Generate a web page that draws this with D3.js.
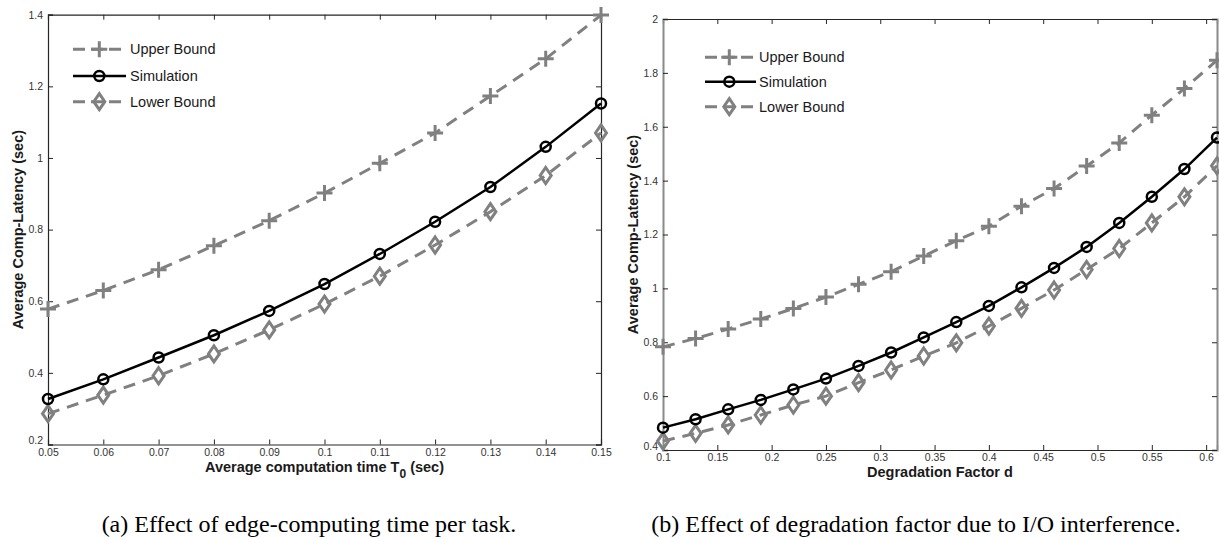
<!DOCTYPE html>
<html>
<head>
<meta charset="utf-8">
<script src="https://cdnjs.cloudflare.com/ajax/libs/d3/7.8.5/d3.min.js"></script>
<style>
  body { margin: 0; background: #fff; }
  svg { display: block; }
</style>
</head>
<body>
<svg id="fig" width="1219" height="539"></svg>
<script>
// panel (a): average computation time T0
var t0Vals = [0.05, 0.06, 0.07, 0.08, 0.09, 0.10, 0.11, 0.12, 0.13, 0.14, 0.15];
var upperA = [0.578, 0.630, 0.688, 0.755, 0.825, 0.902, 0.985, 1.070, 1.173, 1.277, 1.399];
var simA   = [0.327, 0.382, 0.443, 0.505, 0.573, 0.648, 0.732, 0.822, 0.919, 1.031, 1.152];
var lowerA = [0.286, 0.338, 0.392, 0.453, 0.520, 0.592, 0.670, 0.757, 0.850, 0.951, 1.070];
var xTicksA = [0.05, 0.06, 0.07, 0.08, 0.09, 0.1, 0.11, 0.12, 0.13, 0.14, 0.15];
var yTicksA = [0.2, 0.4, 0.6, 0.8, 1, 1.2, 1.4];

// panel (b): degradation factor d
var dVals  = [0.10, 0.13, 0.16, 0.19, 0.22, 0.25, 0.28, 0.31, 0.34, 0.37, 0.40, 0.43, 0.46, 0.49, 0.52, 0.55, 0.58, 0.61];
var upperB = [0.783, 0.814, 0.849, 0.886, 0.925, 0.968, 1.015, 1.062, 1.120, 1.177, 1.231, 1.305, 1.371, 1.454, 1.540, 1.643, 1.742, 1.847];
var simB   = [0.483, 0.514, 0.551, 0.586, 0.625, 0.665, 0.712, 0.762, 0.818, 0.875, 0.935, 1.004, 1.076, 1.154, 1.243, 1.340, 1.443, 1.560];
var lowerB = [0.433, 0.462, 0.493, 0.530, 0.567, 0.600, 0.650, 0.697, 0.749, 0.798, 0.860, 0.926, 0.994, 1.070, 1.148, 1.243, 1.340, 1.455];
var xTicksB = [0.1, 0.15, 0.2, 0.25, 0.3, 0.35, 0.4, 0.45, 0.5, 0.55, 0.6];
var yTicksB = [0.4, 0.6, 0.8, 1, 1.2, 1.4, 1.6, 1.8, 2];

var seriesNames = ["Upper Bound", "Simulation", "Lower Bound"];

var GRAY = "#808080";
var SANS = "'Liberation Sans', Arial, Helvetica, sans-serif";
var SERIF = "'Liberation Serif', 'Times New Roman', serif";

var svg = d3.select("#fig");

function fmt(v){ return String(+v.toFixed(2)); }

function marker(g, kind, x, y){
    if (kind == "plus"){
        g.append("path")
            .attr("d", "M"+(x-8)+","+y+"H"+(x+8)+"M"+x+","+(y-8)+"V"+(y+8))
            .attr("stroke", GRAY).attr("stroke-width", 3).attr("fill", "none");
    } else if (kind == "circle"){
        g.append("circle").attr("cx", x).attr("cy", y).attr("r", 5)
            .attr("stroke", "#000").attr("stroke-width", 2.5).attr("fill", "none");
    } else {
        g.append("path")
            .attr("d", "M"+x+","+(y-8)+"L"+(x+5.5)+","+y+"L"+x+","+(y+8)+"L"+(x-5.5)+","+y+"Z")
            .attr("stroke", GRAY).attr("stroke-width", 3).attr("fill", "none");
    }
}

function drawPanel(p){
    var x = d3.scaleLinear().domain(p.xDom).range([p.left, p.right]);
    var y = d3.scaleLinear().domain(p.yDom).range([p.bottom, p.top]);
    var g = svg.append("g");

    // axes: MATLAB style box, ticks pointing inwards on all sides
    var ax = [
        d3.axisBottom(x).tickValues(p.xTicks).tickSize(-5).tickFormat(fmt),
        d3.axisTop(x).tickValues(p.xTicks).tickSize(-5).tickFormat(""),
        d3.axisLeft(y).tickValues(p.yTicks).tickSize(-5).tickFormat(fmt),
        d3.axisRight(y).tickValues(p.yTicks).tickSize(-5).tickFormat("")
    ];
    var pos = ["translate(0,"+p.bottom+")", "translate(0,"+p.top+")",
               "translate("+p.left+",0)", "translate("+p.right+",0)"];
    ax.forEach(function(a, i){
        var ga = g.append("g").attr("transform", pos[i]).call(a);
        ga.selectAll(".tick line").attr("stroke", "#262626");
        ga.select(".domain").attr("stroke", (i>=2 ? p.vColor : "#262626"))
            .attr("stroke-width", (i>=2 ? p.vWidth : 1.2));
        ga.selectAll("text").attr("font-family", SANS).attr("font-size", "10.5px").attr("fill", "#333");
        if (i == 0) ga.selectAll("text").attr("y", 4);
        if (i == 2){
            ga.selectAll("text").attr("x", -5);
            // lowest y label sits just above the first x label, as in the figure
            ga.selectAll("text").filter(function(d){ return d == p.yDom[0]; }).attr("dy", "-0.05em");
        }
    });

    var line = d3.line().x(function(d){ return x(d[0]); }).y(function(d){ return y(d[1]); });
    var series = [
        {vals: p.upper, color: GRAY, w: 3, dash: "12,8", m: "plus"},
        {vals: p.sim, color: "#000", w: 2.5, dash: null, m: "circle"},
        {vals: p.lower, color: GRAY, w: 3, dash: "12,8", m: "diamond"}
    ];
    // draw dashed bounds first, simulation on top
    [0, 2, 1].forEach(function(k){
        var s = series[k];
        var pts = p.xs.map(function(v, i){ return [v, s.vals[i]]; });
        g.append("path").datum(pts).attr("d", line)
            .attr("fill", "none").attr("stroke", s.color).attr("stroke-width", s.w)
            .attr("stroke-dasharray", s.dash);
        pts.forEach(function(d){ marker(g, s.m, x(d[0]), y(d[1])); });
    });

    // legend
    var lg = g.append("g");
    series.forEach(function(s, i){
        var yy = p.leg.rows[i];
        lg.append("line").attr("x1", p.leg.x1).attr("x2", p.leg.x2)
            .attr("y1", yy).attr("y2", yy)
            .attr("stroke", s.color).attr("stroke-width", s.w)
            .attr("stroke-dasharray", s.dash ? "12,6" : null);
        marker(lg, s.m, p.leg.mx, yy);
        lg.append("text").attr("x", p.leg.tx).attr("y", yy)
            .attr("dominant-baseline", "central")
            .attr("font-family", SANS).attr("font-size", "14.5px").attr("fill", "#1a1a1a")
            .text(seriesNames[i]);
    });

    // axis titles
    var xl = g.append("text").attr("x", (p.left+p.right)/2).attr("y", p.bottom+27)
        .attr("text-anchor", "middle").attr("font-family", SANS)
        .attr("font-size", "14.5px").attr("font-weight", "bold").attr("fill", "#1a1a1a");
    xl.append("tspan").text(p.xLabel[0]);
    if (p.xLabel.length > 1){
        xl.append("tspan").attr("dy", 6).attr("font-size", "12px").text(p.xLabel[1]);
        xl.append("tspan").attr("dy", -6).text(p.xLabel[2]);
    }
    g.append("text")
        .attr("transform", "translate("+p.yLabelX+","+((p.top+p.bottom)/2)+") rotate(-90)")
        .attr("text-anchor", "middle").attr("dominant-baseline", "central")
        .attr("font-family", SANS).attr("font-size", "14.5px").attr("font-weight", "bold")
        .attr("fill", "#1a1a1a")
        .text("Average Comp-Latency (sec)");

    // caption
    g.append("text").attr("x", p.capX).attr("y", 532)
        .attr("text-anchor", "middle").attr("font-family", SERIF)
        .attr("font-size", "24px").attr("fill", "#000")
        .text(p.caption);
}

drawPanel({
    xs: t0Vals, upper: upperA, sim: simA, lower: lowerA,
    xDom: [0.05, 0.15], yDom: [0.2, 1.4], xTicks: xTicksA, yTicks: yTicksA,
    left: 48, right: 601, top: 14.7, bottom: 444.5,
    vColor: "#262626", vWidth: 1.2,
    leg: {x1: 73, x2: 126, mx: 99.3, tx: 130, rows: [49.3, 76, 101.7]},
    xLabel: ["Average computation time T", "0", " (sec)"],
    yLabelX: 18, capX: 309,
    caption: "(a)  Effect of edge-computing time per task."
});

drawPanel({
    xs: dVals, upper: upperB, sim: simB, lower: lowerB,
    xDom: [0.1, 0.61], yDom: [0.4, 2], xTicks: xTicksB, yTicks: yTicksB,
    left: 663, right: 1217, top: 19, bottom: 450,
    vColor: "#8a8a8a", vWidth: 2,
    leg: {x1: 705, x2: 756, mx: 729.3, tx: 759, rows: [57.3, 81.7, 106.7]},
    xLabel: ["Degradation Factor d"],
    yLabelX: 632.7, capX: 916,
    caption: "(b)  Effect of degradation factor due to I/O interference."
});
</script>
</body>
</html>
